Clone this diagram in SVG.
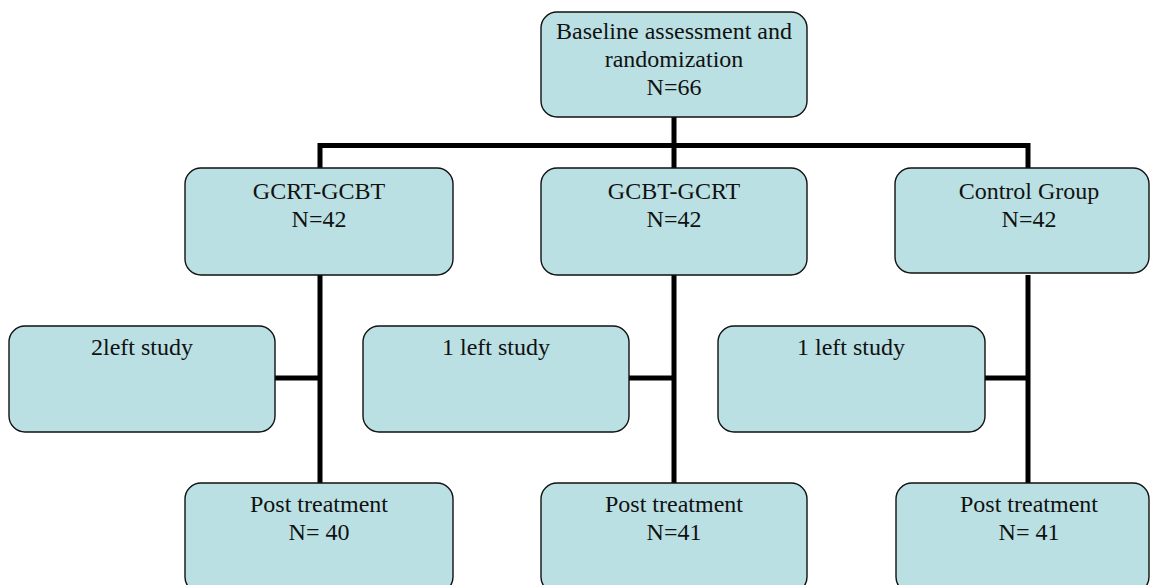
<svg xmlns="http://www.w3.org/2000/svg" width="1151" height="585" viewBox="0 0 1151 585">
<style>
.box{fill:#BAE0E3;stroke:#111;stroke-width:1.4}
.t{font-family:"Liberation Serif","Times New Roman",serif;font-size:24px;fill:#111;text-anchor:middle}
.c{stroke:#000;stroke-width:5;fill:none}
</style>
<rect width="1151" height="585" fill="#fff"/>
<g id="connectors">
<path class="c" d="M674 117V145.5M317.5 145.5H1030.5M320 145.5V168M674 145.5V168M1028 145.5V168"/>
<path class="c" d="M320 275V483M674 275V483M1028 275V483"/>
<path class="c" d="M275 378H320M629 378H674M985 378H1028"/>
</g>
<g id="baseline"><rect class="box" x="541" y="12" width="266" height="105" rx="16"/>
<text class="t" x="674" y="39">Baseline assessment and</text><text class="t" x="674" y="67">randomization</text><text class="t" x="674" y="95">N=66</text></g>
<g id="gcrt"><rect class="box" x="185" y="168" width="268" height="107" rx="16"/>
<text class="t" x="319" y="199">GCRT-GCBT</text><text class="t" x="319" y="227">N=42</text></g>
<g id="gcbt"><rect class="box" x="541" y="168" width="266" height="107" rx="16"/>
<text class="t" x="674" y="199">GCBT-GCRT</text><text class="t" x="674" y="227">N=42</text></g>
<g id="control"><rect class="box" x="895" y="168" width="254" height="105" rx="16"/>
<text class="t" x="1029" y="199">Control Group</text><text class="t" x="1029" y="227">N=42</text></g>
<g id="left1"><rect class="box" x="9" y="326" width="266" height="106" rx="16"/>
<text class="t" x="142" y="355">2left study</text></g>
<g id="left2"><rect class="box" x="363" y="326" width="266" height="106" rx="16"/>
<text class="t" x="496" y="355">1 left study</text></g>
<g id="left3"><rect class="box" x="718" y="326" width="267" height="106" rx="16"/>
<text class="t" x="851" y="355">1 left study</text></g>
<g id="post1"><rect class="box" x="185" y="483" width="268" height="110" rx="16"/>
<text class="t" x="319" y="512">Post treatment</text><text class="t" x="319" y="540">N= 40</text></g>
<g id="post2"><rect class="box" x="541" y="483" width="266" height="110" rx="16"/>
<text class="t" x="674" y="512">Post treatment</text><text class="t" x="674" y="540">N=41</text></g>
<g id="post3"><rect class="box" x="896" y="483" width="253" height="110" rx="16"/>
<text class="t" x="1029" y="512">Post treatment</text><text class="t" x="1029" y="540">N= 41</text></g>
</svg>
